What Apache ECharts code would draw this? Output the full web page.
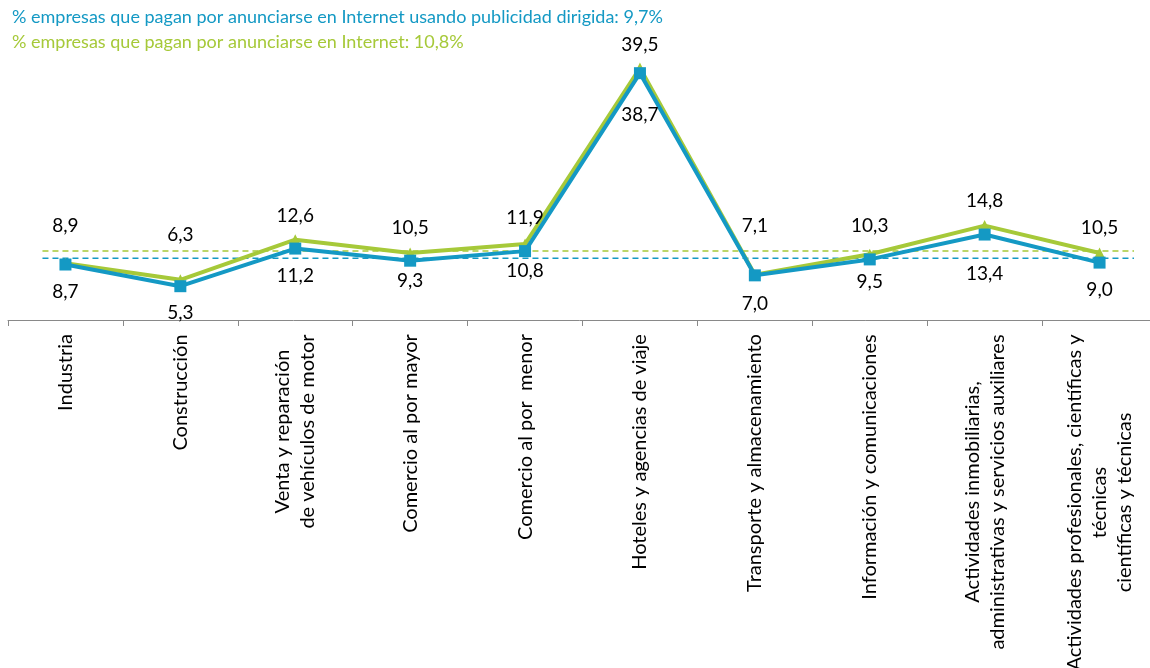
<!DOCTYPE html>
<html><head><meta charset="utf-8">
<script src="https://cdn.jsdelivr.net/npm/echarts@6/dist/echarts.min.js"></script>
<style>html,body{margin:0;padding:0;background:#fff}#c{width:1150px;height:668px}</style>
</head><body><div id="c"></div>
<script>
// ---- data ----
const categories = [
  'Industria',
  'Construcción',
  'Venta y reparación\nde vehículos de motor',
  'Comercio al por mayor',
  'Comercio al por  menor',
  'Hoteles y agencias de viaje',
  'Transporte y almacenamiento',
  'Información y comunicaciones',
  'Actividades inmobiliarias,\nadministrativas y servicios auxiliares',
  'Actividades profesionales, científicas y\ntécnicas\ncientíficas y técnicas'
];
const seriesNames = [
  '% empresas que pagan por anunciarse en Internet usando publicidad dirigida',
  '% empresas que pagan por anunciarse en Internet'
];
const adsTargeted = [8.7, 5.3, 11.2, 9.3, 10.8, 38.7, 7.0, 9.5, 13.4, 9.0];
const adsInternet = [8.9, 6.3, 12.6, 10.5, 11.9, 39.5, 7.1, 10.3, 14.8, 10.5];
const avgTargeted = 9.7;
const avgInternet = 10.8;

// ---- styling (label placement, not data) ----
const BLUE = '#1499c4', GREEN = '#a6c939';
const greenLabelOff = [37, 45, 24, 25, 26, 23, 49, 28, 25, 25];
const blueLabelOff = [27, 27, 27, 20, 20, 42, 29, 22, 39, 27];
const avgLineStart = -0.2, avgLineEnd = 9.3;
const FONT = 'Lato';
const CAT_FS = 20;

const fmt = v => v.toFixed(1).replace('.', ',');

const ctx = document.createElement('canvas').getContext('2d');
ctx.font = CAT_FS + 'px ' + FONT;
const rich = {};
const catLabels = categories.map((c, i) => {
  const lines = c.split('\n');
  const w = Math.ceil(Math.max(...lines.map(l => ctx.measureText(l).width))) + 2;
  rich['c' + i] = {width: w, align: 'center', fontSize: CAT_FS, fontFamily: FONT, color: '#000', lineHeight: 25};
  return lines.map(l => '{c' + i + '|' + l + '}').join('\n');
});

const mkData = (vals, offs) => vals.map((v, i) => ({
  value: v,
  label: {offset: [0, offs[i]]}
}));

const chart = echarts.init(document.getElementById('c'));
chart.setOption({
  animation: false,
  backgroundColor: '#fff',
  title: [
    {text: seriesNames[0] + ': ' + fmt(avgTargeted) + '%', left: 12, top: 7, padding: 0,
     textStyle: {color: BLUE, fontSize: 18, fontWeight: 'normal', fontFamily: FONT, lineHeight: 20}},
    {text: seriesNames[1] + ': ' + fmt(avgInternet) + '%', left: 12, top: 32, padding: 0,
     textStyle: {color: GREEN, fontSize: 18, fontWeight: 'normal', fontFamily: FONT, lineHeight: 20}}
  ],
  grid: {left: 8, top: 33, width: 1149, height: 287, containLabel: false, outerBoundsMode: 'none'},
  xAxis: [
    {
      type: 'category', data: categories, boundaryGap: true,
      axisLine: {lineStyle: {color: '#898989', width: 1}},
      axisTick: {show: true, length: 6, lineStyle: {color: '#898989'}},
      axisLabel: {interval: 0, rotate: 90, margin: 13, formatter: (v, i) => catLabels[i], rich: rich,
                  fontFamily: FONT, fontSize: CAT_FS, color: '#000', hideOverlap: false}
    },
    {type: 'value', min: -0.5, max: 9.5, show: false, gridIndex: 0}
  ],
  yAxis: {type: 'value', min: 0, max: 45, show: false, splitLine: {show: false}},
  series: [
    {
      name: seriesNames[1] + ' (media)', type: 'line', xAxisIndex: 1, silent: true,
      data: [[avgLineStart, avgInternet], [avgLineEnd, avgInternet]],
      symbol: 'none', lineStyle: {color: GREEN, width: 1.5, type: [6, 4]}, z: 1
    },
    {
      name: seriesNames[0] + ' (media)', type: 'line', xAxisIndex: 1, silent: true,
      data: [[avgLineStart, avgTargeted], [avgLineEnd, avgTargeted]],
      symbol: 'none', lineStyle: {color: BLUE, width: 1.5, type: [6, 4]}, z: 1
    },
    {
      name: seriesNames[1], type: 'line', data: mkData(adsInternet, greenLabelOff.map(o => -o)),
      symbol: 'triangle', symbolSize: 11, itemStyle: {color: GREEN},
      lineStyle: {color: GREEN, width: 4}, z: 3,
      label: {show: true, position: 'inside', formatter: p => fmt(p.value), color: '#000',
              fontFamily: FONT, fontSize: 19}
    },
    {
      name: seriesNames[0], type: 'line', data: mkData(adsTargeted, blueLabelOff),
      symbol: 'rect', symbolSize: 12, itemStyle: {color: BLUE},
      lineStyle: {color: BLUE, width: 4}, z: 4,
      label: {show: true, position: 'inside', formatter: p => fmt(p.value), color: '#000',
              fontFamily: FONT, fontSize: 19}
    }
  ]
});
</script></body></html>
